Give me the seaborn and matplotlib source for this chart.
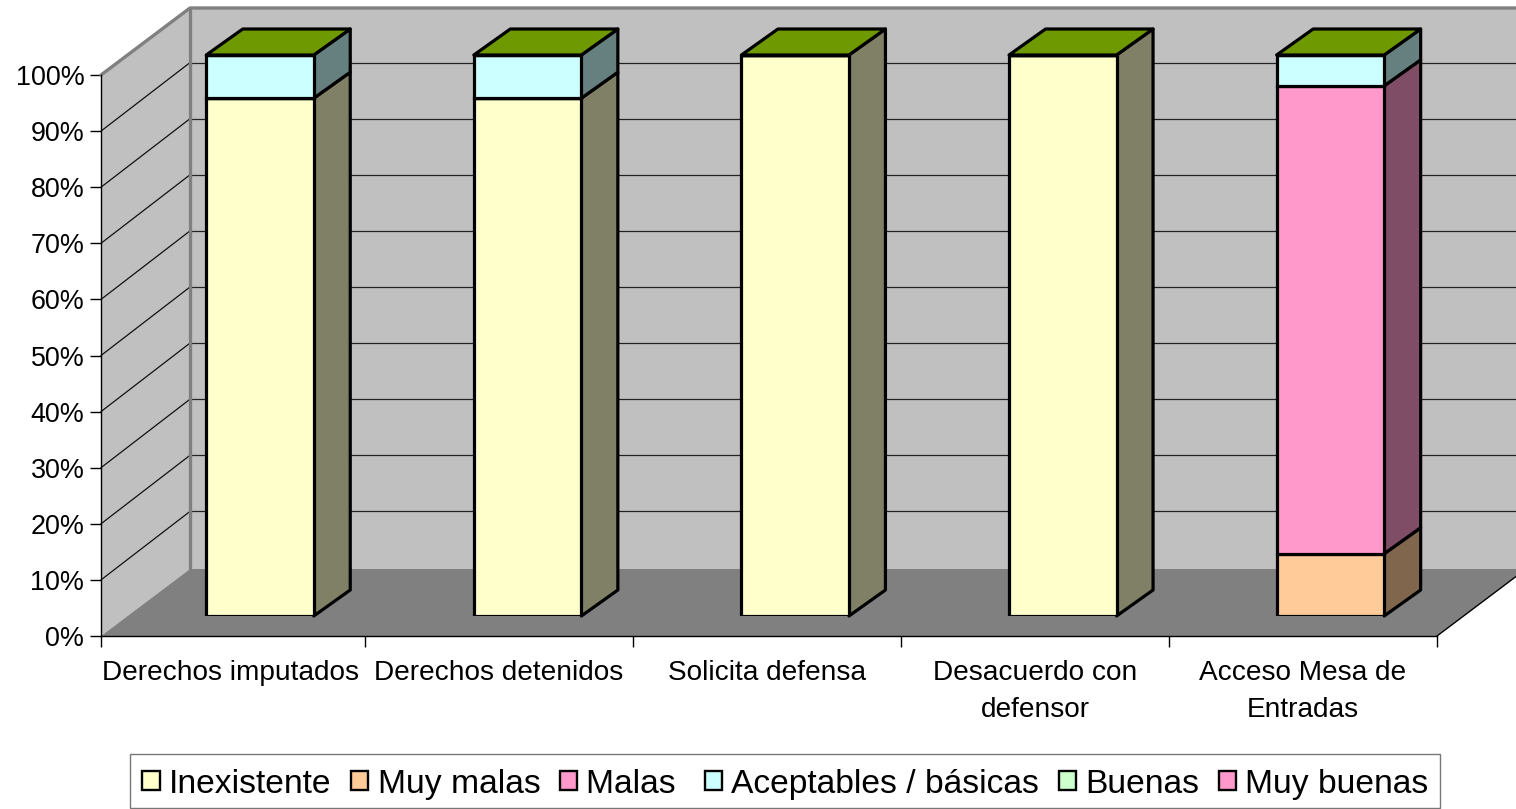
import numpy as np
import pandas as pd
import matplotlib
matplotlib.use("Agg")
import matplotlib.pyplot as plt
from matplotlib.patches import Polygon, Patch
from matplotlib.ticker import FuncFormatter
import seaborn as sns

categories = ["Derechos imputados", "Derechos detenidos", "Solicita defensa",
              "Desacuerdo con\ndefensor", "Acceso Mesa de\nEntradas"]
inexistente = [92.3, 92.3, 100, 100, 0]
muy_malas = [0, 0, 0, 0, 11.1]
malas = [0, 0, 0, 0, 83.4]
aceptables = [7.7, 7.7, 0, 0, 5.5]
buenas = [0, 0, 0, 0, 0]
muy_buenas = [0, 0, 0, 0, 0]
series_names = ["Inexistente", "Muy malas", "Malas ", "Aceptables / básicas", "Buenas", "Muy buenas"]
series_values = [inexistente, muy_malas, malas, aceptables, buenas, muy_buenas]
series_colors = ["#FFFFCC", "#FFCC99", "#FF99CC", "#CCFFFF", "#CCFFCC", "#FF99CC"]
y_ticks = list(range(0, 101, 10))

W, H = 1516, 809
sns.set_theme(style="white")
plt.rcParams["font.family"] = ["Liberation Sans", "DejaVu Sans"]
fig = plt.figure(figsize=(W / 100, H / 100), dpi=100, facecolor="white")


def axes_px(left, right, top, bottom):
    return [left / W, 1 - bottom / H, (right - left) / W, (bottom - top) / H]


PX_X = 268.0   # pixels per category
PX_Y = 5.61    # pixels per percent
ax = fig.add_axes(axes_px(97, 1437, 75, 636))
ax.set_xlim(-0.5, 4.5)
ax.set_ylim(0, 100)
ax.patch.set_alpha(0)
x0, x1 = -0.5 + 4 / PX_X, 4.5
dx, dy = 89 / PX_X, 67 / PX_Y
gdy = 68.5 / PX_Y
far = x1 + dx

wall = "#C0C0C0"
edge = "#808080"
ax.add_patch(Polygon([(x0, 0), (x0 + dx, dy), (x0 + dx, 100 + dy), (x0, 100)], closed=True,
                     fc=wall, ec="none", clip_on=False, zorder=1))
ax.add_patch(Polygon([(x0 + dx, dy), (far, dy), (far, 100 + dy), (x0 + dx, 100 + dy)], closed=True,
                     fc=wall, ec="none", clip_on=False, zorder=1))
ax.add_patch(Polygon([(x0, 0), (x1, 0), (far, dy), (x0 + dx, dy)], closed=True,
                     fc=edge, ec="none", clip_on=False, zorder=1.2))
for v in y_ticks[1:-1]:
    ax.plot([x0, x0 + dx], [v, v + gdy], color="#111111", lw=0.9, clip_on=False, zorder=1.1)
    ax.plot([x0 + dx, far], [v + gdy, v + gdy], color="#222222", lw=0.9, clip_on=False, zorder=1.1)
ax.plot([x0, x0 + dx, far], [100, 100 + dy, 100 + dy], color=edge, lw=2.4, clip_on=False, zorder=1.3)
ax.plot([x0 + dx, x0 + dx], [dy, 100 + dy], color=edge, lw=2.4, clip_on=False, zorder=1.3)
ax.plot([x1, far], [0, dy], color="black", lw=1.0, clip_on=False, zorder=1.3)

for s in ("top", "right"):
    ax.spines[s].set_visible(False)
ax.spines["left"].set_position(("outward", -4 * 0.72))
ax.spines["bottom"].set_bounds(x0, x1)
for s in ("left", "bottom"):
    ax.spines[s].set_color("black")
    ax.spines[s].set_linewidth(1.0)
    ax.spines[s].set_zorder(5)
ax.set_yticks(y_ticks)
ax.yaxis.set_major_formatter(FuncFormatter(lambda v, _: f"{v:.0f}%"))
ax.tick_params(axis="y", left=True, length=8, width=1.0, color="black", pad=4, labelsize=19.4, labelcolor="black")
ax.set_xticks(range(len(categories)))
ax.set_xticklabels(categories, linespacing=1.56)
ax.set_xticks([x0] + [i + 0.5 for i in range(len(categories))], minor=True)
ax.tick_params(axis="x", which="major", bottom=False, length=0, pad=17, labelsize=20.2, labelcolor="black")
ax.tick_params(axis="x", which="minor", bottom=True, length=8, width=1.0, color="black")

# Bars sit a little way back on the floor: their own axes, same scales
BX_X = 267.6
bx = fig.add_axes(axes_px(260 - BX_X / 2, 260 - BX_X / 2 + 5 * BX_X, 55, 616))
bx.patch.set_alpha(0)
BAR_LW = 2.3
BAR_W = 107.5 / BX_X
sdx, sdy = 36.5 / BX_X, 26 / PX_Y
cum = np.zeros(len(categories))
top = np.zeros(len(categories))
for vals in series_values:
    top = top + np.array(vals)
for name, vals, col in zip(series_names, series_values, series_colors):
    vals = np.array(vals, dtype=float)
    df = pd.DataFrame({"categoria": categories, "valor": vals})
    sns.barplot(data=df, x="categoria", y="valor", bottom=cum, width=BAR_W, color=col, saturation=1,
                edgecolor="black", linewidth=BAR_LW, ax=bx, zorder=3)
    side = tuple(0.5 * c for c in matplotlib.colors.to_rgb(col))
    for i, v in enumerate(vals):
        if v > 0:
            xr = i + BAR_W / 2
            bx.add_patch(Polygon([(xr, cum[i]), (xr + sdx, cum[i] + sdy),
                                  (xr + sdx, cum[i] + v + sdy), (xr, cum[i] + v)], closed=True,
                                 fc=side, ec="black", lw=BAR_LW, joinstyle="round", clip_on=False, zorder=2))
    cum = cum + vals
for i, t in enumerate(top):
    xl, xr = i - BAR_W / 2, i + BAR_W / 2
    bx.add_patch(Polygon([(xl, t), (xr, t), (xr + sdx, t + sdy), (xl + sdx, t + sdy)], closed=True,
                         fc="#6F9900", ec="black", lw=BAR_LW, joinstyle="round", clip_on=False, zorder=4))
bx.set_xlim(-0.5, 4.5)
bx.set_ylim(0, 100)
bx.axis("off")

handles = [Patch(facecolor=c, edgecolor="black", linewidth=1.7, label=n)
           for n, c in zip(series_names, series_colors)]
leg = fig.legend(handles=handles, ncol=6, loc="lower left",
                 bbox_to_anchor=(130 / W, 1 - 808 / H), borderaxespad=0,
                 fontsize=24.2, frameon=True, fancybox=False, edgecolor="#555555", facecolor="white",
                 handlelength=0.52, handleheight=0.52, handletextpad=0.3, columnspacing=0.55,
                 borderpad=0.34, labelspacing=0)
leg.get_frame().set_linewidth(1.0)
for t in leg.get_texts():
    t.set_color("black")
    t.set_position((0, -3))
for h in leg.legend_handles:
    h.set_y(h.get_y() - 3 * 0.72)
    h.set_x(h.get_x() + 1 * 0.72)
fig.savefig("out.png", dpi=100)
